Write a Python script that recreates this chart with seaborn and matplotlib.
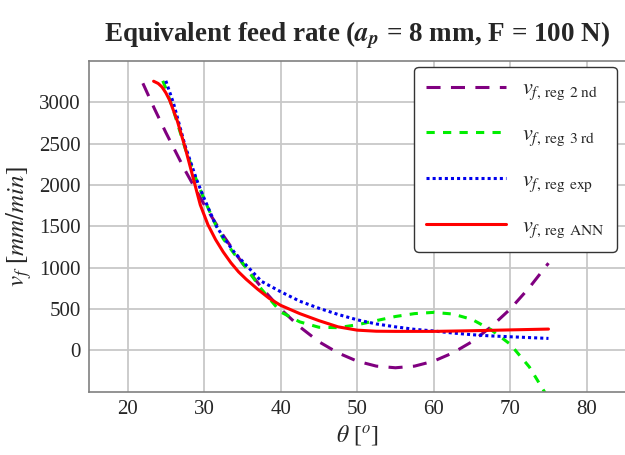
import matplotlib
matplotlib.use("Agg")
import matplotlib.pyplot as plt
import seaborn as sns
import pandas as pd

# values
theta_2nd = [22, 23.5, 25, 27.5, 30, 32.5, 35, 37.5, 40, 42.5, 45, 47.5, 50,
             52.5, 55, 57.5, 60, 62.5, 65, 67.5, 70, 72.5, 75]
vf_2nd = [3230, 2925, 2635, 2180, 1765, 1390, 1055, 760, 500, 285, 105, -30, -130,
          -190, -210, -190, -130, -30, 105, 285, 500, 760, 1055]

theta_3rd = [24.6, 25, 26, 27.5, 29, 30, 31.5, 32.5, 34, 35, 37.5, 40, 42.5, 45, 47.5, 50,
             52.5, 55, 57.5, 60, 62.5, 65, 67.5, 70, 72.5, 75]
vf_3rd = [3260, 3170, 2900, 2450, 2060, 1830, 1520, 1350, 1160, 1060, 740, 465, 345, 280, 275, 310,
          360, 410, 445, 460, 440, 375, 250, 75, -200, -580]

theta_exp = [25, 26, 27.5, 29, 30, 31.5, 32.5, 34, 35, 37.5, 40, 42.5, 45, 47.5, 50,
             52.5, 55, 57.5, 60, 62.5, 65, 67.5, 70, 72.5, 75]
vf_exp = [3260, 2990, 2480, 2070, 1840, 1520, 1370, 1180, 1080, 835, 710, 595, 510, 435, 370,
          320, 285, 255, 235, 210, 190, 175, 165, 155, 145]

theta_ann = [23.4, 24, 24.5, 25, 25.5, 26.5, 27.5, 28.5, 29.5, 30.5, 31.5, 32.5, 33.5, 34.5, 35.5,
             37, 38.5, 40, 42.5, 45, 47.5, 50, 52.5, 55, 60, 65, 70, 75]
vf_ann = [3255, 3228, 3185, 3115, 3025, 2775, 2460, 2110, 1760, 1520, 1340, 1190, 1060, 950, 860,
          740, 630, 545, 445, 360, 285, 245, 232, 230, 230, 238, 248, 258]

labels = [r"$v_{f,\,\mathrm{reg}}$$_{\mathrm{\ 2\ nd}}$",
          r"$v_{f,\,\mathrm{reg}}$$_{\mathrm{\ 3\ rd}}$",
          r"$v_{f,\,\mathrm{reg}}$$_{\mathrm{\ exp}}$",
          r"$v_{f,\,\mathrm{reg}}$$_{\mathrm{\ ANN}}$"]

sns.set_style("whitegrid")
plt.rcParams["font.family"] = ["Liberation Serif", "DejaVu Serif"]
plt.rcParams["mathtext.fontset"] = "stix"

fig = plt.figure(figsize=(6.25, 4.55), dpi=100)
ax = fig.add_axes([0.1429, 0.139, 0.8571, 0.727])

lw = 2.2
sns.lineplot(x=theta_2nd, y=vf_2nd, ax=ax, color="#800080", linewidth=lw,
             linestyle=(0, (4.6, 3.4)), label=labels[0])
sns.lineplot(x=theta_3rd, y=vf_3rd, ax=ax, color="#00ee00", linewidth=lw,
             linestyle=(0, (2.7, 2.7)), label=labels[1])
sns.lineplot(x=theta_exp, y=vf_exp, ax=ax, color="#0000ee", linewidth=lw,
             linestyle=(0, (1, 1)), label=labels[2])
sns.lineplot(x=theta_ann, y=vf_ann, ax=ax, color="#ff0000", linewidth=lw,
             linestyle="-", label=labels[3])

ax.set_xlim(15, 85)
ax.set_ylim(-500, 3500)
ax.set_xticks([20, 30, 40, 50, 60, 70, 80])
ax.set_yticks([0, 500, 1000, 1500, 2000, 2500, 3000])
ax.grid(True, color="#c8c8c8", linewidth=1.3)
ax.tick_params(axis="both", length=0, labelsize=15, pad=6)
for side in ["left", "top", "bottom"]:
    ax.spines[side].set_color("#808080")
    ax.spines[side].set_linewidth(1.2)
ax.spines["right"].set_visible(False)

ax.set_xlabel(r"$\theta$ [$^{o}$]", fontsize=17, labelpad=3)
ax.set_ylabel(r"$v_f$ [$mm/min$]", fontsize=18, labelpad=4)
ax.set_title(r"Equivalent feed rate ($\mathbfit{a}_{\mathbfit{p}}$ = 8 mm, F = 100 N)",
             fontsize=19.5, fontweight="bold", pad=14)

leg = ax.legend(loc="upper right", fontsize=16, handlelength=3.6, labelspacing=1.0,
                borderpad=0.55, handletextpad=0.7, fancybox=True, framealpha=1,
                borderaxespad=0.25, bbox_to_anchor=(0.995, 1.0))
leg.get_frame().set_edgecolor("#333333")
leg.get_frame().set_linewidth(1.0)

fig.savefig("out.png", dpi=100)
